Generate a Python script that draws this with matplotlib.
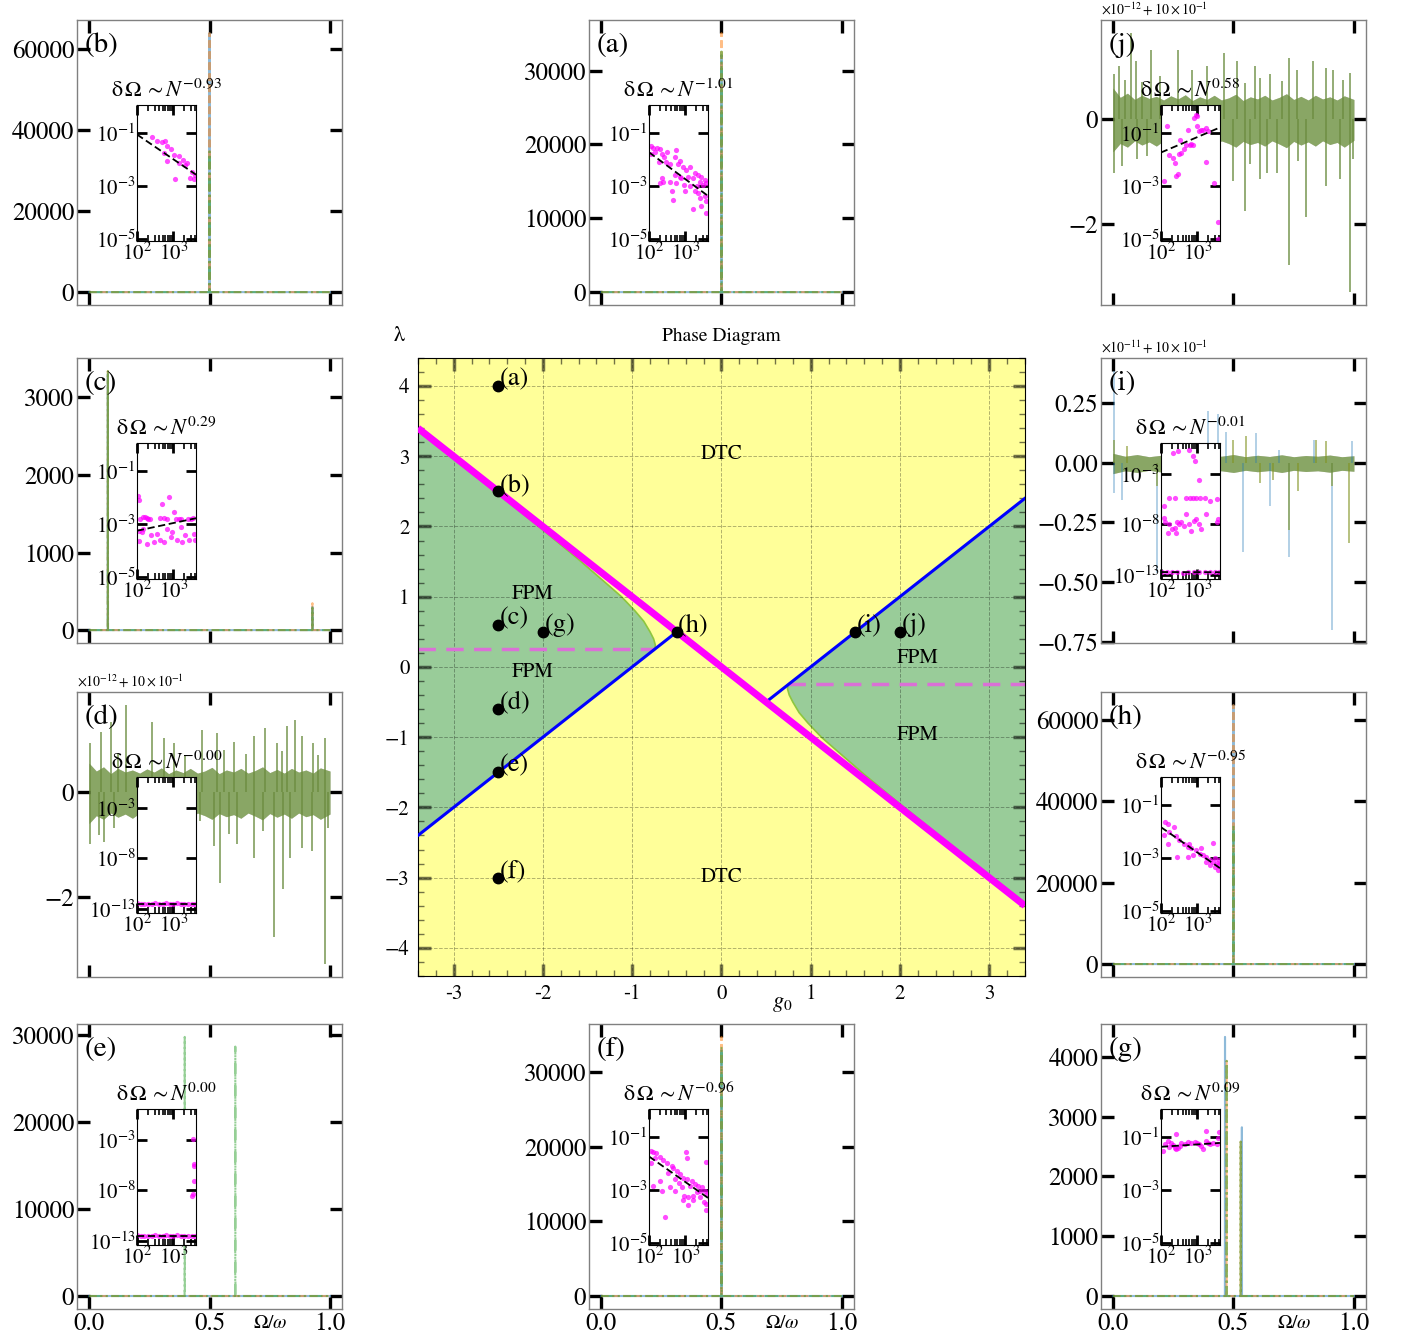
import numpy as np
import matplotlib
matplotlib.use("Agg")
import matplotlib.pyplot as plt
from matplotlib.ticker import (FixedLocator, MultipleLocator, NullLocator,
                               LogLocator, NullFormatter, FormatStrFormatter)

plt.rcParams['font.family'] = 'STIXGeneral'
plt.rcParams['mathtext.fontset'] = 'stix'

# frequency axis of the spectra
omega = np.linspace(0, 1, 2001)

# ---- peak spectra: (Omega/omega, amplitude) for the three runs ----
a_blue = [(0.5, 32100)]
a_orange = [(0.5, 35100)]
a_green = [(0.5, 32600)]

b_blue = [(0.5, 64000)]
b_orange = [(0.5, 64000)]
b_green = [(0.5, 34700)]

c_blue = [(0.078, 3300), (0.927, 300)]
c_orange = [(0.078, 3340), (0.927, 347)]
c_green = [(0.078, 3340), (0.927, 287)]

e_blue = []
e_orange = []
e_green = [(0.397, 29760), (0.607, 28650)]

f_blue = [(0.5, 33000)]
f_orange = [(0.5, 34700)]
f_green = [(0.5, 33400)]

g_blue = [(0.465, 4330), (0.535, 2820)]
g_orange = [(0.472, 3930), (0.530, 2580)]
g_green = [(0.472, 3930), (0.530, 2580)]

h_blue = [(0.5, 63700)]
h_orange = [(0.5, 63700)]
h_green = [(0.5, 34100)]

# ---- noise spectra (units of the offset): band envelope + spikes ----
d_band_x = [0.0, 0.03, 0.06, 0.09, 0.12, 0.15, 0.18, 0.21, 0.24, 0.27, 0.30, 0.33, 0.36,
            0.39, 0.42, 0.45, 0.48, 0.51, 0.54, 0.57, 0.60, 0.63, 0.66, 0.69, 0.72, 0.75,
            0.78, 0.81, 0.84, 0.87, 0.90, 0.93, 0.96, 1.0]
d_band_hi = [0.55, 0.40, 0.48, 0.35, 0.45, 0.38, 0.42, 0.36, 0.44, 0.38, 0.46, 0.35, 0.42,
             0.37, 0.45, 0.36, 0.40, 0.47, 0.35, 0.42, 0.38, 0.45, 0.36, 0.41, 0.48, 0.37,
             0.43, 0.36, 0.45, 0.38, 0.42, 0.36, 0.46, 0.40]
d_band_lo = [-0.60, -0.45, -0.52, -0.40, -0.48, -0.42, -0.50, -0.40, -0.46, -0.41, -0.52,
             -0.40, -0.47, -0.42, -0.50, -0.40, -0.45, -0.52, -0.41, -0.47, -0.43, -0.50,
             -0.40, -0.46, -0.53, -0.41, -0.48, -0.42, -0.50, -0.40, -0.47, -0.43, -0.52, -0.42]
d_spikes = [(0.004, 0.93), (0.048, 1.15), (0.09, 1.34), (0.152, 1.66), (0.262, 1.34),
            (0.31, 1.03), (0.352, 0.93), (0.469, 1.18), (0.531, 1.12), (0.60, 0.96),
            (0.683, 1.06), (0.731, 1.22), (0.779, 0.93), (0.821, 1.25), (0.855, 1.37),
            (0.883, 1.06), (0.931, 0.93), (0.979, 1.03), (0.12, 0.75), (0.40, 0.70),
            (0.56, 0.80), (0.65, 0.72), (0.80, 0.78), (0.95, 0.70),
            (0.004, -1.00), (0.041, -0.81), (0.103, -0.68), (0.283, -0.49), (0.414, -0.68),
            (0.462, -0.56), (0.517, -1.03), (0.545, -1.73), (0.614, -1.00), (0.683, -1.25),
            (0.766, -2.77), (0.804, -1.85), (0.834, -1.25), (0.883, -1.06), (0.924, -1.13),
            (0.979, -3.28), (0.993, -0.68), (0.06, -0.95), (0.58, -0.80), (0.72, -0.75)]

j_band_x = [0.0, 0.03, 0.06, 0.09, 0.12, 0.15, 0.18, 0.21, 0.24, 0.27, 0.30, 0.33, 0.36,
            0.39, 0.42, 0.45, 0.48, 0.51, 0.54, 0.57, 0.60, 0.63, 0.66, 0.69, 0.72, 0.75,
            0.78, 0.81, 0.84, 0.87, 0.90, 0.93, 0.96, 1.0]
j_band_hi = [0.60, 0.42, 0.50, 0.38, 0.46, 0.40, 0.44, 0.37, 0.45, 0.39, 0.47, 0.36, 0.43,
             0.38, 0.46, 0.37, 0.41, 0.48, 0.36, 0.43, 0.39, 0.46, 0.37, 0.42, 0.49, 0.38,
             0.44, 0.37, 0.46, 0.39, 0.43, 0.37, 0.45, 0.38]
j_band_lo = [-0.62, -0.46, -0.53, -0.41, -0.49, -0.43, -0.51, -0.41, -0.47, -0.42, -0.53,
             -0.41, -0.48, -0.43, -0.51, -0.41, -0.46, -0.53, -0.42, -0.48, -0.44, -0.51,
             -0.41, -0.47, -0.54, -0.42, -0.49, -0.43, -0.51, -0.41, -0.48, -0.44, -0.53, -0.40]
j_spikes = [(0.004, 0.86), (0.025, 1.02), (0.073, 1.65), (0.094, 1.11), (0.156, 1.33),
            (0.197, 0.83), (0.269, 1.33), (0.328, 0.95), (0.39, 1.02), (0.459, 1.27),
            (0.514, 1.11), (0.59, 1.02), (0.61, 0.79), (0.652, 0.86), (0.731, 1.17),
            (0.762, 0.95), (0.83, 1.11), (0.886, 0.98), (0.913, 0.95), (0.955, 0.76),
            (0.982, 0.89), (0.05, 0.75), (0.12, 0.72), (0.55, 0.70), (0.70, 0.74),
            (0.004, -1.02), (0.039, -0.89), (0.10, -0.76), (0.142, -0.70), (0.245, -0.95),
            (0.30, -1.02), (0.376, -0.76), (0.445, -1.02), (0.50, -1.17), (0.548, -1.75),
            (0.61, -1.14), (0.638, -1.02), (0.679, -1.02), (0.731, -2.79), (0.803, -1.87),
            (0.886, -1.27), (0.941, -1.14), (0.982, -3.30), (0.996, -0.76), (0.57, -0.85),
            (0.77, -0.80)]

i_band_x = [0.0, 0.05, 0.1, 0.15, 0.2, 0.25, 0.3, 0.35, 0.4, 0.45, 0.5, 0.55, 0.6, 0.65,
            0.7, 0.75, 0.8, 0.85, 0.9, 0.95, 1.0]
i_band_hi = [0.040, 0.028, 0.035, 0.026, 0.032, 0.027, 0.034, 0.026, 0.031, 0.028, 0.035,
             0.026, 0.032, 0.027, 0.034, 0.026, 0.031, 0.028, 0.033, 0.026, 0.030]
i_band_lo = [-0.045, -0.033, -0.040, -0.031, -0.038, -0.032, -0.041, -0.031, -0.036, -0.033,
             -0.040, -0.031, -0.037, -0.032, -0.040, -0.031, -0.036, -0.033, -0.039, -0.031, -0.035]
i_blue_spikes = [(0.004, 0.386), (0.004, -0.126), (0.036, -0.155), (0.183, -0.463),
                 (0.396, 0.218), (0.437, 0.204), (0.54, -0.372), (0.595, 0.126),
                 (0.691, 0.056), (0.732, -0.393), (0.835, 0.098), (0.911, -0.702),
                 (0.993, 0.091), (0.47, 0.13), (0.65, -0.18)]
i_green_spikes = [(0.004, 0.098), (0.059, 0.07), (0.183, -0.098), (0.444, -0.056),
                  (0.499, 0.098), (0.554, 0.112), (0.609, -0.084), (0.663, -0.07),
                  (0.732, -0.281), (0.842, 0.098), (0.883, 0.091), (0.911, -0.098),
                  (0.979, -0.337), (0.40, 0.08), (0.77, -0.12)]

# ---- finite-size scaling insets: log10 N, log10 dOmega, fit ----
a_logn = [2.04, 2.11, 2.22, 2.29, 2.06, 2.16, 2.34, 2.40, 2.50, 2.28, 2.46, 2.75, 2.71, 2.57,
          2.85, 2.80, 2.94, 3.03, 3.12, 3.26, 3.35, 3.44, 3.54, 3.58, 3.49, 3.40, 3.21, 3.08,
          2.85, 2.71, 2.75, 2.57, 2.39, 2.34, 2.29, 2.62, 2.98, 3.12, 3.26, 3.35, 3.40, 3.54,
          3.56, 3.21, 3.44, 2.66, 3.56, 3.32, 2.96, 2.89]
a_logd = [-1.49, -1.55, -1.57, -1.61, -1.79, -1.73, -1.79, -1.91, -1.73, -2.10, -2.10, -1.65,
          -1.91, -2.16, -2.04, -2.18, -2.28, -2.40, -2.28, -2.52, -2.59, -2.65, -2.77, -2.89,
          -2.95, -2.83, -2.71, -2.65, -2.65, -2.59, -2.89, -2.83, -2.83, -2.71, -2.89, -3.20,
          -3.20, -3.01, -3.20, -3.26, -3.44, -3.38, -3.56, -3.87, -3.74, -3.54, -4.01, -3.01,
          -2.95, -2.71]

b_logn = [2.41, 2.55, 2.69, 2.78, 2.82, 2.92, 2.73, 3.01, 3.14, 3.26, 3.37, 2.81, 3.14,
          3.33, 3.05, 3.51, 3.56, 3.60, 3.46]
b_logd = [-1.15, -1.28, -1.35, -1.31, -1.50, -1.60, -1.75, -1.81, -1.88, -2.00, -2.13,
          -2.06, -2.13, -2.19, -2.75, -2.48, -2.75, -2.60, -2.69]

c_logn = [2.03, 2.05, 2.07, 2.15, 2.22, 2.28, 2.31, 2.06, 2.12, 2.06, 2.28, 2.37, 2.45, 2.54,
          2.62, 2.68, 2.73, 2.82, 2.87, 2.92, 2.96, 3.01, 3.06, 3.09, 3.15, 3.20, 3.24, 3.31,
          3.39, 3.48, 3.43, 3.57, 3.59, 3.53, 2.75, 2.64, 2.36, 2.17, 2.82, 3.20]
c_logd = [-1.93, -2.08, -2.82, -2.73, -2.75, -2.78, -2.82, -3.25, -3.31, -3.65, -3.74, -3.43,
          -3.67, -3.37, -2.78, -2.26, -2.78, -2.79, -1.98, -3.49, -3.31, -2.55, -2.82, -3.61,
          -2.79, -2.82, -3.67, -3.40, -2.79, -2.79, -3.61, -3.37, -3.61, -2.78, -3.67, -3.61,
          -2.79, -3.18, -3.18, -3.12]

d_logn = [2.00, 2.10, 2.20, 2.30, 2.40, 2.50, 2.60, 2.70, 2.80, 2.90, 3.00, 3.10, 3.20,
          3.30, 3.40, 3.50, 3.60]
d_logd = [-12.45, -12.50, -12.55, -12.48, -12.52, -12.45, -12.55, -12.50, -12.47, -12.53,
          -12.50, -12.45, -12.55, -12.50, -12.48, -12.52, -12.50]

e_logn = [2.00, 2.10, 2.20, 2.30, 2.40, 2.50, 2.60, 2.70, 2.80, 2.90, 3.00, 3.10, 3.20,
          3.30, 3.40, 3.50, 3.60, 3.54, 3.56, 3.57, 3.58, 3.53, 3.50]
e_logd = [-12.45, -12.50, -12.55, -12.48, -12.52, -12.45, -12.55, -12.50, -12.47, -12.53,
          -12.50, -12.45, -12.55, -12.50, -12.48, -12.52, -12.50, -2.94, -5.38, -5.60,
          -7.13, -8.33, -8.56]

f_logn = [2.04, 2.11, 2.20, 2.30, 2.16, 2.06, 2.39, 2.48, 2.62, 2.67, 2.76, 2.85, 2.94, 3.04,
          3.18, 3.27, 3.36, 3.45, 3.55, 3.59, 3.02, 3.04, 3.56, 2.30, 2.11, 2.34, 2.57, 2.71,
          2.81, 2.90, 2.96, 3.08, 3.22, 3.31, 3.41, 3.50, 3.57, 3.22, 2.93, 3.08, 2.44, 3.56,
          2.71, 2.53, 3.13, 3.41]
f_logd = [-1.53, -1.55, -1.61, -1.74, -1.80, -1.98, -1.86, -1.98, -2.10, -2.17, -2.29, -2.41,
          -2.53, -2.60, -2.66, -2.78, -2.84, -2.90, -3.02, -3.15, -1.55, -1.80, -1.94, -2.66,
          -2.84, -3.02, -2.90, -3.02, -2.72, -2.90, -3.21, -3.27, -3.21, -3.09, -3.27, -3.45,
          -3.52, -3.39, -3.39, -3.58, -4.01, -3.76, -2.60, -2.35, -2.84, -3.02]

g_logn = [2.05, 2.12, 2.19, 2.28, 2.32, 2.37, 2.42, 2.46, 2.51, 2.56, 2.65, 2.74, 2.83, 2.93,
          2.99, 3.05, 3.11, 3.16, 3.25, 3.30, 3.36, 3.44, 3.53, 3.57, 3.60, 3.23, 2.40, 2.23]
g_logd = [-1.52, -1.27, -1.15, -1.21, -1.30, -1.40, -1.46, -1.42, -1.34, -1.21, -1.25, -1.19,
          -1.21, -1.19, -1.21, -1.27, -1.34, -1.46, -1.17, -1.21, -1.25, -1.21, -1.25, -1.02,
          -0.80, -0.78, -0.88, -1.37]

h_logn = [2.11, 2.19, 2.35, 2.07, 2.19, 2.40, 2.49, 2.63, 2.73, 2.82, 2.96, 3.06, 3.15, 3.24,
          3.34, 3.43, 3.53, 3.57, 3.60, 3.48, 3.10, 3.43, 2.44, 2.73, 2.87, 3.24, 3.34, 3.48,
          3.57, 2.21, 2.77]
h_logd = [-1.65, -1.72, -1.84, -2.12, -2.46, -2.15, -2.33, -2.46, -2.58, -2.64, -2.70, -2.83,
          -2.89, -2.95, -3.07, -3.14, -3.20, -3.26, -3.07, -3.01, -2.64, -2.42, -2.95, -2.95,
          -2.89, -3.14, -3.26, -3.32, -3.44, -2.02, -2.46]

i_logn = [2.32, 2.46, 2.77, 2.88, 2.93, 3.05, 2.09, 2.23, 2.37, 2.69, 2.79, 2.88, 2.97, 3.06,
          3.20, 3.34, 3.53, 2.09, 2.12, 2.23, 2.31, 2.37, 2.44, 2.49, 2.56, 2.62, 2.69, 2.77,
          2.83, 2.90, 2.97, 3.05, 3.11, 3.25, 3.53, 3.57, 2.19, 2.42,
          2.02, 2.15, 2.30, 2.45, 2.60, 2.75, 2.90, 3.05, 3.20, 3.35, 3.50, 3.60]
i_logd = [-0.90, -0.74, -0.68, -1.23, -1.77, -3.58, -6.16, -5.42, -5.42, -5.42, -5.42, -5.42,
          -5.42, -5.42, -5.42, -5.74, -5.52, -7.35, -7.77, -8.00, -8.48, -8.32, -7.77, -8.00,
          -7.77, -8.16, -6.94, -8.00, -8.65, -7.68, -7.52, -8.00, -8.48, -6.94, -7.77, -7.52,
          -8.81, -8.90,
          -12.75, -12.70, -12.75, -12.72, -12.78, -12.70, -12.75, -12.72, -12.75, -12.70,
          -12.75, -12.72]

j_logn = [2.09, 2.16, 2.23, 2.32, 2.37, 2.42, 2.46, 2.49, 2.51, 2.56, 2.62, 2.68, 2.74, 2.79,
          2.83, 2.88, 2.91, 2.95, 2.99, 2.99, 3.05, 3.11, 3.16, 3.25, 3.25, 3.30, 3.45, 3.57, 3.57]
j_logd = [-2.81, -0.75, -1.81, -1.94, -2.13, -2.63, -2.56, -1.78, -1.25, -1.75, -1.60, -1.45,
          -0.90, -1.44, -1.40, -1.44, -0.44, -0.31, -0.35, -0.75, -0.94, -0.88, -0.90, -2.10,
          -0.81, -0.94, -2.88, -4.35, -4.98]

# fitted exponents (as printed) and log10 of dOmega at N = 100
fit_slope = {'a': -1.01, 'b': -0.93, 'c': 0.29, 'd': -0.00, 'e': 0.00,
             'f': -0.96, 'g': 0.09, 'h': -0.95, 'i': -0.01, 'j': 0.58}
fit_sign = {'a': '-', 'b': '-', 'c': '', 'd': '-', 'e': '',
            'f': '-', 'g': '', 'h': '-', 'i': '-', 'j': ''}
fit_icpt = {'a': -1.73, 'b': -1.06, 'c': -3.25, 'd': -12.50, 'e': -12.50,
            'f': -1.74, 'g': -1.37, 'h': -1.84, 'i': -12.72, 'j': -1.73}

# ---- phase diagram ----
crit_g0 = [-3.4, 3.4]
crit_lam = [3.4, -3.4]
blue_left_g0 = [-3.4, -0.5]
blue_left_lam = [-2.4, 0.5]
blue_right_g0 = [0.5, 3.4]
blue_right_lam = [-0.5, 2.4]
curve_g0 = [-3.40, -3.00, -2.50, -2.00, -1.60, -1.30, -1.12, -0.97, -0.87, -0.80, -0.76, -0.74, -0.75]
curve_lam = [3.36, 2.96, 2.46, 1.95, 1.53, 1.20, 1.00, 0.80, 0.65, 0.50, 0.40, 0.31, 0.25]
pt_names = ['(a)', '(b)', '(c)', '(d)', '(e)', '(f)', '(g)', '(h)', '(i)', '(j)']
pt_g0 = [-2.5, -2.5, -2.5, -2.5, -2.5, -2.5, -2.0, -0.5, 1.5, 2.0]
pt_lam = [4.0, 2.5, 0.6, -0.6, -1.5, -3.0, 0.5, 0.5, 0.5, 0.5]

series_styles = [('tab:blue', '-'), ('tab:orange', '--'), ('tab:green', '-.')]


def spectrum(peaks):
    y = np.zeros_like(omega)
    for w, amp in peaks:
        y[np.argmin(np.abs(omega - w))] = amp
    return y


def style_panel(ax, name, ystep, bottom_labels):
    for s in ax.spines.values():
        s.set_color('0.5')
        s.set_linewidth(1)
    ax.set_xlim(-0.05, 1.05)
    ax.xaxis.set_major_locator(FixedLocator([0, 0.5, 1.0]))
    ax.xaxis.set_major_formatter(FormatStrFormatter('%.1f'))
    ax.yaxis.set_major_locator(MultipleLocator(ystep))
    ax.tick_params(which='major', direction='in', length=9, width=2.4, top=True, right=True,
                   labelsize=18, pad=2, labelbottom=bottom_labels)
    ax.text(0.03, 0.91, '(%s)' % name, transform=ax.transAxes, fontsize=21,
            ha='left', va='center', zorder=6)
    if bottom_labels:
        ax.set_xlabel(r'$\Omega/\omega$', fontsize=14)
        ax.xaxis.set_label_coords(0.73, -0.02)


def add_inset(ax, name, logn, logd, small):
    ins = ax.inset_axes([0.226, 0.225, 0.223, 0.477])
    ins.set_xscale('log')
    ins.set_yscale('log')
    ins.set_xlim(98, 4200)
    if small:
        ins.set_ylim(10 ** -13.4, 10 ** 0.05)
        ins.yaxis.set_major_locator(FixedLocator([1e-13, 1e-8, 1e-3]))
    else:
        ins.set_ylim(10 ** -5.07, 10 ** 0.06)
        ins.yaxis.set_major_locator(FixedLocator([1e-5, 1e-3, 1e-1]))
    ins.yaxis.set_minor_locator(NullLocator())
    ins.xaxis.set_major_locator(FixedLocator([100, 1000]))
    ins.xaxis.set_minor_locator(LogLocator(subs=np.arange(2, 10)))
    ins.xaxis.set_minor_formatter(NullFormatter())
    ins.tick_params(which='major', direction='in', length=7, width=2, top=True, right=True,
                    labelsize=15, pad=1)
    ins.tick_params(which='minor', direction='in', length=4, width=1.2, top=True, right=True)
    ins.scatter(10 ** np.array(logn), 10 ** np.array(logd), s=14, color='magenta',
                alpha=0.7, lw=0, zorder=2)
    n_fit = np.array(ins.get_xlim())
    ins.plot(n_fit, 10 ** fit_icpt[name] * (n_fit / 100) ** fit_slope[name], 'k--',
             lw=1.3, dashes=(4, 2), zorder=3)
    ins.set_xlim(98, 4200)
    ins.set_title(r'δ$\,$Ω$\,\sim N^{%s%.2f}$' % (fit_sign[name], abs(fit_slope[name])),
                  fontsize=16, pad=6)
    return ins


def peak_panel(ax, name, runs, ystep, bottom_labels):
    for (c, ls), peaks in zip(series_styles, runs):
        ax.plot(omega, spectrum(peaks), color=c, ls=ls, lw=1.5, alpha=0.5)
    style_panel(ax, name, ystep, bottom_labels)


def noise_panel(ax, name, bx, blo, bhi, runs, ystep, offset):
    for (c, ls), spikes in zip(series_styles, runs):
        ax.fill_between(bx, blo, bhi, color=c, alpha=0.4, lw=0)
        xs = [s[0] for s in spikes]
        vs = [s[1] for s in spikes]
        ax.vlines(xs, 0, vs, color=c, alpha=0.4, lw=1.2)
    style_panel(ax, name, ystep, False)
    ax.text(0.0, 1.012, offset, transform=ax.transAxes, fontsize=10, ha='left', va='bottom')


fig = plt.figure(figsize=(14.03, 13.38), dpi=100)

cols = [0.0549, 0.4198, 0.7847]
rows = [0.7720, 0.5194, 0.2698, 0.0217]
pw, ph = 0.1889, 0.2130


def panel(col, row):
    return fig.add_axes([cols[col], rows[row], pw, ph])


ax = panel(0, 0)
peak_panel(ax, 'b', [b_blue, b_orange, b_green], 20000, False)
add_inset(ax, 'b', b_logn, b_logd, False)

ax = panel(1, 0)
peak_panel(ax, 'a', [a_blue, a_orange, a_green], 10000, False)
add_inset(ax, 'a', a_logn, a_logd, False)

ax = panel(2, 0)
noise_panel(ax, 'j', j_band_x, j_band_lo, j_band_hi, [j_spikes, j_spikes, j_spikes], 2,
            r'$\times10^{-12}+10\times10^{-1}$')
add_inset(ax, 'j', j_logn, j_logd, False)

ax = panel(0, 1)
peak_panel(ax, 'c', [c_blue, c_orange, c_green], 1000, False)
add_inset(ax, 'c', c_logn, c_logd, False)

ax = panel(2, 1)
noise_panel(ax, 'i', i_band_x, i_band_lo, i_band_hi,
            [i_blue_spikes, i_green_spikes, i_green_spikes], 0.25,
            r'$\times10^{-11}+10\times10^{-1}$')
add_inset(ax, 'i', i_logn, i_logd, True)

ax = panel(0, 2)
noise_panel(ax, 'd', d_band_x, d_band_lo, d_band_hi, [d_spikes, d_spikes, d_spikes], 2,
            r'$\times10^{-12}+10\times10^{-1}$')
add_inset(ax, 'd', d_logn, d_logd, True)

ax = panel(2, 2)
peak_panel(ax, 'h', [h_blue, h_orange, h_green], 20000, False)
add_inset(ax, 'h', h_logn, h_logd, False)

ax = panel(0, 3)
peak_panel(ax, 'e', [e_blue, e_orange, e_green], 10000, True)
add_inset(ax, 'e', e_logn, e_logd, True)

ax = panel(1, 3)
peak_panel(ax, 'f', [f_blue, f_orange, f_green], 10000, True)
add_inset(ax, 'f', f_logn, f_logd, False)

ax = panel(2, 3)
peak_panel(ax, 'g', [g_blue, g_orange, g_green], 1000, True)
add_inset(ax, 'g', g_logn, g_logd, False)

# central phase diagram
pax = fig.add_axes([0.2979, 0.2706, 0.4326, 0.4619])
pax.set_facecolor('#ffff99')
pax.set_xlim(-3.4, 3.4)
pax.set_ylim(-4.4, 4.4)
pax.set_axisbelow('line')

pax.fill(curve_g0 + [blue_left_g0[0]], curve_lam + [blue_left_lam[0]],
         color='#99cc99', lw=0, zorder=1)
pax.fill([-g for g in curve_g0] + [blue_right_g0[1]], [-l for l in curve_lam] + [blue_right_lam[1]],
         color='#99cc99', lw=0, zorder=1)
pax.plot(curve_g0, curve_lam, color='#8dc63f', lw=1.2, zorder=1.2)
pax.plot([-g for g in curve_g0], [-l for l in curve_lam], color='#8dc63f', lw=1.2, zorder=1.2)

pax.plot([crit_g0[0], curve_g0[-1]], [curve_lam[-1], curve_lam[-1]], color='orchid', lw=2.5,
         dashes=(5, 3), zorder=2)
pax.plot([-curve_g0[-1], crit_g0[1]], [-curve_lam[-1], -curve_lam[-1]], color='orchid', lw=2.5,
         dashes=(5, 3), zorder=2)
pax.plot(blue_left_g0, blue_left_lam, color='blue', lw=2.2, zorder=3)
pax.plot(blue_right_g0, blue_right_lam, color='blue', lw=2.2, zorder=3)
pax.plot(crit_g0, crit_lam, color='magenta', lw=5, zorder=4, solid_capstyle='butt')

pax.plot(pt_g0, pt_lam, 'o', color='k', ms=7.5, zorder=6)
for g, l, t in zip(pt_g0, pt_lam, pt_names):
    pax.annotate(t, (g, l), xytext=(1, -4), textcoords='offset points', fontsize=19,
                 ha='left', va='bottom', zorder=7)

pax.text(0, 3.03, 'DTC', fontsize=15, ha='center', va='center')
pax.text(0, -3.0, 'DTC', fontsize=15, ha='center', va='center')
pax.text(-2.12, 1.04, 'FPM', fontsize=15, ha='center', va='center')
pax.text(-2.12, -0.07, 'FPM', fontsize=15, ha='center', va='center')
pax.text(2.2, 0.13, 'FPM', fontsize=15, ha='center', va='center')
pax.text(2.2, -0.97, 'FPM', fontsize=15, ha='center', va='center')

pax.xaxis.set_major_locator(FixedLocator(range(-3, 4)))
pax.set_xticklabels(['-3', '-2', '-1', '0', '1', '2', '3'])
pax.yaxis.set_major_locator(MultipleLocator(1))
pax.xaxis.set_minor_locator(MultipleLocator(0.2))
pax.yaxis.set_minor_locator(MultipleLocator(0.2))
pax.tick_params(which='both', direction='in', top=True, right=True, color=(0, 0, 0, 0.55),
                labelsize=15, pad=6)
pax.tick_params(which='major', length=9, width=2.5)
pax.tick_params(which='minor', length=4, width=1)
pax.grid(True, which='major', ls='--', lw=0.7, color='k', alpha=0.3)

pax.set_title('Phase Diagram', fontsize=14, pad=12)
pax.set_ylabel('λ', rotation=0, fontsize=16)
pax.yaxis.set_label_coords(-0.03, 1.02)
pax.set_xlabel(r'$g_0$', fontsize=16)
pax.xaxis.set_label_coords(0.6, -0.03)

fig.savefig('out.png', dpi=100)
